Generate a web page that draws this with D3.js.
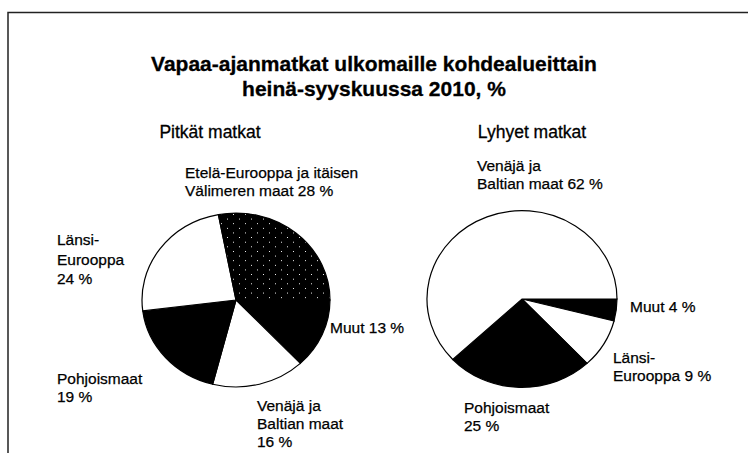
<!DOCTYPE html>
<html>
<head>
<meta charset="utf-8">
<script src="https://cdn.jsdelivr.net/npm/d3@7"></script>
<style>
  body { margin: 0; background: #fff; }
  svg { display: block; font-family: "Liberation Sans", Arial, sans-serif; }
</style>
</head>
<body>
<script>
// data
const titleLines = ["Vapaa-ajanmatkat ulkomaille kohdealueittain", "heinä-syyskuussa 2010, %"]

const longCats = ["Muut", "Venäjä ja Baltian maat", "Pohjoismaat", "Länsi-Eurooppa", "Etelä-Eurooppa ja itäisen Välimeren maat"]
const longVals = [13, 16, 19, 24, 28]
const longFills = ["black", "white", "black", "white", "url(#speckle)"]
const longLabels = [["Muut 13 %"], ["Venäjä ja", "Baltian maat", "16 %"], ["Pohjoismaat", "19 %"], ["Länsi-", "Eurooppa", "24 %"], ["Etelä-Eurooppa ja itäisen", "Välimeren maat 28 %"]]

const shortCats = ["Muut", "Länsi-Eurooppa", "Pohjoismaat", "Venäjä ja Baltian maat"]
const shortVals = [4, 9, 25, 62]
const shortFills = ["black", "white", "black", "white"]
const shortLabels = [["Muut 4 %"], ["Länsi-", "Eurooppa 9 %"], ["Pohjoismaat", "25 %"], ["Venäjä ja", "Baltian maat 62 %"]]

// layout: label anchors relative to each pie centre (left x, first baseline, line step)
const longLabelPos = [[94, 33, 18], [21, 111, 18], [-179, 84, 18], [-179, -55, 19.5], [-51, -122, 18]]
const shortLabelPos = [[108, 13, 18], [91, 64, 18], [-58, 114, 18], [-45, -128, 18]]

const W = 748, H = 453

const svg = d3.select("body").append("svg")
  .attr("width", W)
  .attr("height", H)

// sparse white specks on black, like the scanned dark slice
const defs = svg.append("defs")
const pat = defs.append("pattern")
  .attr("id", "speckle")
  .attr("patternUnits", "userSpaceOnUse")
  .attr("width", 12)
  .attr("height", 10)
pat.append("rect").attr("width", 12).attr("height", 10).attr("fill", "#000")
pat.append("rect").attr("x", 3).attr("y", 2).attr("width", 1).attr("height", 1).attr("fill", "#fff")
pat.append("rect").attr("x", 9).attr("y", 7).attr("width", 1).attr("height", 1).attr("fill", "#fff")

// frame (top and left edge of the scanned box)
svg.append("path")
  .attr("d", `M8,${H} L8,12.5 L${W},12.5`)
  .attr("fill", "none")
  .attr("stroke", "#222")
  .attr("stroke-width", 1.5)

svg.append("g").selectAll("text")
  .data(titleLines)
  .join("text")
  .attr("x", 374)
  .attr("y", (d, i) => 71 + i * 25)
  .attr("text-anchor", "middle")
  .attr("font-size", 21)
  .attr("font-weight", "bold")
  .attr("stroke", "#000")
  .attr("stroke-width", 0.3)
  .text(d => d)

function drawPie(cx, cy, r, sy, subX, subtitle, vals, fills, labels, labelPos) {
  const g = svg.append("g")

  g.append("text")
    .attr("x", subX)
    .attr("y", 138)
    .attr("text-anchor", "middle")
    .attr("font-size", 17.5)
    .attr("stroke", "#000")
    .attr("stroke-width", 0.3)
    .text(subtitle)

  const pie = d3.pie().sort(null).startAngle(Math.PI / 2).endAngle(Math.PI / 2 + 2 * Math.PI)
  const arc = d3.arc().innerRadius(0).outerRadius(r)

  const pg = g.append("g")
    .attr("transform", `translate(${cx},${cy}) scale(1,${sy})`)

  pg.selectAll("path")
    .data(pie(vals))
    .join("path")
    .attr("d", arc)
    .attr("fill", (d, i) => fills[i])
    .attr("stroke", "#000")
    .attr("stroke-width", 1.2)
    .attr("vector-effect", "non-scaling-stroke")

  const lg = g.append("g").attr("transform", `translate(${cx},${cy})`)
  labels.forEach((lines, i) => {
    const p = labelPos[i]
    const t = lg.append("text")
      .attr("x", p[0])
      .attr("y", p[1])
      .attr("font-size", 15.5)
      .attr("stroke", "#000")
      .attr("stroke-width", 0.25)
    lines.forEach((s, j) => {
      t.append("tspan")
        .attr("x", p[0])
        .attr("dy", j == 0 ? 0 : p[2])
        .text(s)
    })
  })
}

drawPie(236, 300, 94, 0.925, 210, "Pitkät matkat", longVals, longFills, longLabels, longLabelPos)
drawPie(522, 299, 95, 0.93, 532, "Lyhyet matkat", shortVals, shortFills, shortLabels, shortLabelPos)
</script>
</body>
</html>
